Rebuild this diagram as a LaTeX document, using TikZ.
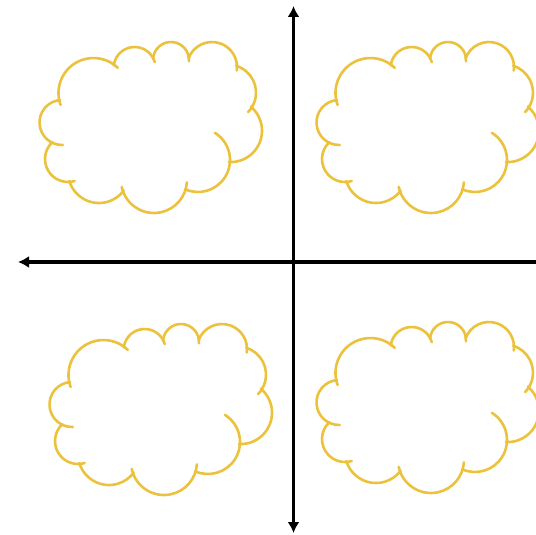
\documentclass[tikz,border=0pt]{standalone}
\usetikzlibrary{arrows.meta}
\definecolor{cloudyellow}{RGB}{236,194,60}
\tikzset{
  cloudline/.style={draw=cloudyellow, line width=2.6pt, line cap=round},
  axisline/.style={draw=black, line width=3.4pt},
  axistip/.tip={Latex[length=11pt,width=12pt]}
}
% cx, cy (pixel, y down), r, start angle, end angle
\newcommand\bumparc[5]{%
  \draw[cloudline] (#1,-#2) ++(#4:#3) arc[start angle=#4, end angle=#5, radius=#3];}
\newcommand\mycloud{%
  \bumparc{93.5}{93}{35}{200}{46}
  \bumparc{134.6}{68}{21}{173}{16}
  \bumparc{171}{60}{18}{176}{-4}
  \bumparc{212}{67}{25}{160}{-8}
  \bumparc{228}{92.6}{28}{73}{-44}
  \bumparc{230.6}{130.7}{31.4}{50}{-93}
  \bumparc{198}{160}{32}{58}{-114}
  \bumparc{154}{180}{33}{192}{356}
  \bumparc{99}{172}{31}{197}{323}
  \bumparc{68}{159}{23}{133}{287}
  \bumparc{62}{122.5}{22.5}{95}{272}
}
\begin{document}
\begin{tikzpicture}[x=1pt,y=1pt]
  \clip (0,0) rectangle (536,-535);
  \fill[white] (0,0) rectangle (536,-535);
  % clouds
  \begin{scope}[shift={(0,0)}]\mycloud\end{scope}
  \begin{scope}[shift={(277,0)}]\mycloud\end{scope}
  \begin{scope}[shift={(10,-282)}]\mycloud\end{scope}
  \begin{scope}[shift={(277,-280)}]\mycloud\end{scope}
  % axes
  \coordinate (ytop) at (293.5,-6);
  \coordinate (ybot) at (293.5,-533);
  \coordinate (xleft) at (18,-262);
  \coordinate (xright) at (537,-262);
  \draw[axisline,-{axistip}] (xright) -- (xleft);
  \draw[axisline,{axistip}-{axistip}] (ybot) -- (ytop);
\end{tikzpicture}
\end{document}
